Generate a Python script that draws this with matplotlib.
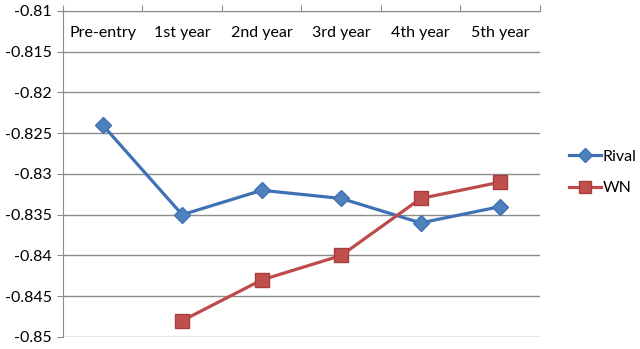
import matplotlib.pyplot as plt
import numpy as np

categories = ['Pre-entry', '1st year', '2nd year', '3rd year', '4th year', '5th year']
rival = [-0.824, -0.835, -0.832, -0.833, -0.836, -0.834]
wn = [np.nan, -0.848, -0.843, -0.840, -0.833, -0.831]
y_ticks = [-0.85, -0.845, -0.84, -0.835, -0.83, -0.825, -0.82, -0.815, -0.81]

plt.rcParams['font.family'] = ['Lato', 'DejaVu Sans']

fig = plt.figure(figsize=(6.4, 3.49), dpi=100)
ax = fig.add_axes([0.0984, 0.0344, 0.7453, 0.9341])

x = np.arange(len(categories))
ax.plot(x, rival, color='#3F72B5', lw=2.3, marker='D', ms=8.5,
        mfc='#4F81BD', mec='#3F72B5', label='Rival', zorder=3)
ax.plot(x, wn, color='#BE4B48', lw=2.3, marker='s', ms=10,
        mfc='#C0504D', mec='#A83E3B', label='WN', zorder=3)

ax.set_xlim(-0.5, len(categories) - 0.5)
ax.set_ylim(-0.85, -0.81)
ax.set_yticks(y_ticks)
ax.set_yticklabels([('%g' % v) for v in y_ticks], fontsize=11.5)
for v in y_ticks:
    ax.axhline(v, color='#8C8C8C', lw=1, zorder=1)

ax.xaxis.tick_top()
ax.set_xticks(np.arange(len(categories) + 1) - 0.5)
ax.set_xticklabels([])
ax.tick_params(axis='x', direction='out', length=4, color='#8C8C8C')
ax.tick_params(axis='y', direction='out', length=4, color='#8C8C8C', pad=4)
for i, c in enumerate(categories):
    ax.text(i, -0.8127, c, ha='center', va='center', fontsize=11.5)

for s in ['right', 'bottom']:
    ax.spines[s].set_visible(False)
ax.spines['top'].set_color('#8C8C8C')
ax.spines['left'].set_color('#8C8C8C')

ax.legend(loc='center left', bbox_to_anchor=(1.03, 0.505), frameon=False,
          fontsize=11.5, handlelength=2.0, handletextpad=0.15, labelspacing=1.1,
          markerscale=0.85, borderaxespad=0.5)

fig.savefig('out.png', dpi=100)
